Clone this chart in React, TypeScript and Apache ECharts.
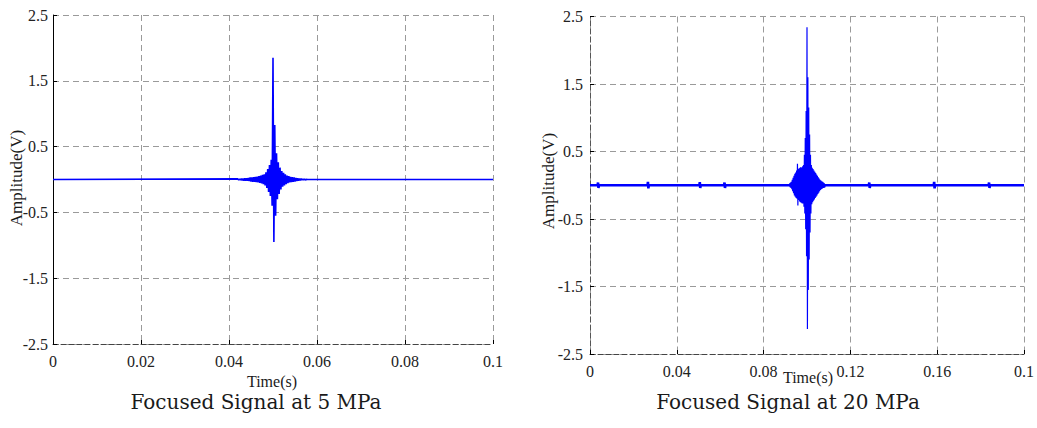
import React, { useEffect, useRef } from "react";
import * as echarts from "echarts";

// ---- data ----
const sampleStep = 0.0002;

// 5 MPa chart
const leftXTickLabels = ["0", "0.02", "0.04", "0.06", "0.08", "0.1"];
const yTickLabels = ["-2.5", "-1.5", "-0.5", "0.5", "1.5", "2.5"];
const leftBurstStart = 0.042;
const leftBurst = [
  0.01, -0.01, 0.01, -0.01, 0.015, -0.015, 0.015, -0.02, 0.02, -0.02,
  0.02, -0.02, 0.025, -0.025, 0.03, -0.03, 0.03, -0.035, 0.035, -0.035,
  0.04, -0.04, 0.045, -0.045, 0.05, -0.05, 0.06, -0.06, 0.07, -0.07,
  0.08, -0.09, 0.11, -0.13, 0.16, -0.19, 0.22, -0.25, 0.3, -0.4,
  1.85, -0.95, 0.83, -0.55, 0.4, -0.3, 0.26, -0.22, 0.18, -0.15,
  0.13, -0.11, 0.1, -0.09, 0.08, -0.07, 0.06, -0.055, 0.05, -0.045,
  0.04, -0.04, 0.035, -0.035, 0.03, -0.03, 0.025, -0.025, 0.02, -0.02,
  0.015, -0.015, 0.015, -0.01, 0.01, -0.01, 0.01, -0.01, 0.005, 0,
];

// 20 MPa chart
const rightXTickLabels = ["0", "0.04", "0.08", "0.12", "0.16", "0.1"];
const rightBurstStart = 0.092;
const rightBurst = [
  0.03, -0.03, 0.04, -0.04, 0.05, -0.06, 0.08, -0.09, 0.11, -0.12,
  0.14, -0.15, 0.17, -0.17, 0.19, -0.19, 0.22, -0.2, 0.32, -0.3,
  0.24, -0.22, 0.25, -0.24, 0.26, -0.25, 0.27, -0.26, 0.26, -0.27,
  0.28, -0.27, 0.3, -0.32, 0.45, -0.42, 0.7, -0.65, 1.1, -1.05,
  2.34, -2.13, 1.6, -1.55, 1.15, -1.1, 0.75, -0.7, 0.45, -0.42,
  0.3, -0.28, 0.26, -0.25, 0.24, -0.23, 0.22, -0.21, 0.2, -0.19,
  0.18, -0.17, 0.16, -0.15, 0.14, -0.13, 0.12, -0.11, 0.1, -0.09,
  0.08, -0.07, 0.07, -0.06, 0.06, -0.05, 0.05, -0.04, 0.04, -0.04,
  0.03, -0.03, 0,
];
const rightBaseline: [number, number][] = [
  [0, 0], [0.0035, 0], [0.0037, 0.04], [0.0039, -0.04], [0.0041, 0],
  [0.0265, 0], [0.0267, 0.05], [0.0269, -0.045], [0.0271, 0],
  [0.0504, 0], [0.0506, 0.045], [0.0508, -0.04], [0.051, 0],
  [0.0618, 0], [0.062, 0.04], [0.0622, -0.04], [0.0624, 0],
  [0.1285, 0], [0.1287, 0.04], [0.1289, -0.04], [0.1291, 0],
  [0.1584, 0], [0.1586, 0.05], [0.1588, -0.045], [0.159, 0],
  [0.1837, 0], [0.1839, 0.04], [0.1841, -0.04], [0.1843, 0],
  [0.2, 0],
];

const titles = ["Focused Signal at 5 MPa", "Focused Signal at 20 MPa"];

function burstToPoints(start: number, values: number[]): [number, number][] {
  return values.map((v, i) => [start + i * sampleStep, v]);
}

export default function App() {
  const ref = useRef<HTMLDivElement>(null);
  useEffect(() => {
    if (!ref.current) return;
    const chart = echarts.init(ref.current, null, { renderer: "svg" });
    const serif = "Liberation Serif";
    const titleFont = "DejaVu Serif";
    const labelFromArr = (arr: string[], min: number, interval: number) => (v: number) =>
      arr[Math.round((v - min) / interval)] ?? "";

    const labelStyle = {
      fontFamily: serif,
      fontSize: 16,
      color: "#222",
    };

    const makeX = (gi: number, max: number, interval: number, labels: string[]) => ({
      type: "value",
      gridIndex: gi,
      min: 0,
      max,
      interval,
      axisLine: { show: true, onZero: false, lineStyle: { color: "#444", type: [5, 3], width: 1 } },
      axisTick: { show: true, inside: true, length: 4, lineStyle: { color: "#000" } },
      axisLabel: {
        margin: 9,
        ...labelStyle,
        formatter: labelFromArr(labels, 0, interval),
      },
      splitLine: { show: true, lineStyle: { color: "#9a9a9a", type: [6, 4], width: 1 } },
    });
    const makeY = (gi: number, solid: boolean, margin: number) => ({
      type: "value",
      gridIndex: gi,
      min: -2.5,
      max: 2.5,
      interval: 1,
      axisLine: {
        show: true,
        onZero: false,
        lineStyle: solid ? { color: "#000", width: 1 } : { color: "#555", type: [5, 3], width: 1 },
      },
      axisTick: { show: true, inside: true, length: 4, lineStyle: { color: "#000" } },
      axisLabel: {
        margin,
        ...labelStyle,
        formatter: labelFromArr(yTickLabels, -2.5, 1),
      },
      splitLine: { show: true, lineStyle: { color: "#9a9a9a", type: [6, 4], width: 1 } },
    });

    const leftData: [number, number][] = [
      [0, 0],
      ...burstToPoints(leftBurstStart, leftBurst),
      [0.1, 0],
    ];
    const rightData = burstToPoints(rightBurstStart, rightBurst);

    const text = (x: number, y: number, t: string, size: number, family: string, rot = 0) => ({
      type: "text",
      x,
      y,
      rotation: rot,
      style: {
        text: t,
        fontSize: size,
        fontFamily: family,
        fill: "#1a1a1a",
        align: "center",
        verticalAlign: "middle",
      },
    });

    chart.setOption({
      animation: false,
      backgroundColor: "#fff",
      textStyle: { fontFamily: serif },
      grid: [
        { left: 53, top: 15, width: 440, height: 329 },
        { left: 590, top: 16.5, width: 435, height: 337.5 },
      ],
      xAxis: [makeX(0, 0.1, 0.02, leftXTickLabels), makeX(1, 0.2, 0.04, rightXTickLabels)],
      yAxis: [makeY(0, true, 5), makeY(1, false, 7)],
      series: [
        {
          type: "line",
          xAxisIndex: 0,
          yAxisIndex: 0,
          data: leftData,
          symbol: "none",
          silent: true,
          lineStyle: { color: "#0000ff", width: 1.6 },
        },
        {
          type: "line",
          xAxisIndex: 1,
          yAxisIndex: 1,
          data: rightBaseline,
          symbol: "none",
          silent: true,
          lineStyle: { color: "#0000ff", width: 2.6 },
        },
        {
          type: "line",
          xAxisIndex: 1,
          yAxisIndex: 1,
          data: rightData,
          symbol: "none",
          silent: true,
          lineStyle: { color: "#0000ff", width: 1.2 },
        },
      ],
      graphic: [
        text(16.5, 178, "Amplitude(V)", 17, serif, Math.PI / 2),
        text(548, 181, "Amplitude(V)", 17, serif, Math.PI / 2),
        text(272, 381, "Time(s)", 16, serif),
        text(808, 377, "Time(s)", 16, serif),
        text(256, 402, titles[0], 20, titleFont),
        text(788, 402, titles[1], 20, titleFont),
      ],
    });
    return () => chart.dispose();
  }, []);
  return (
    <div
      ref={ref}
      style={{ position: "fixed", left: 0, top: 0, width: 1037, height: 428, background: "#fff" }}
    />
  );
}
